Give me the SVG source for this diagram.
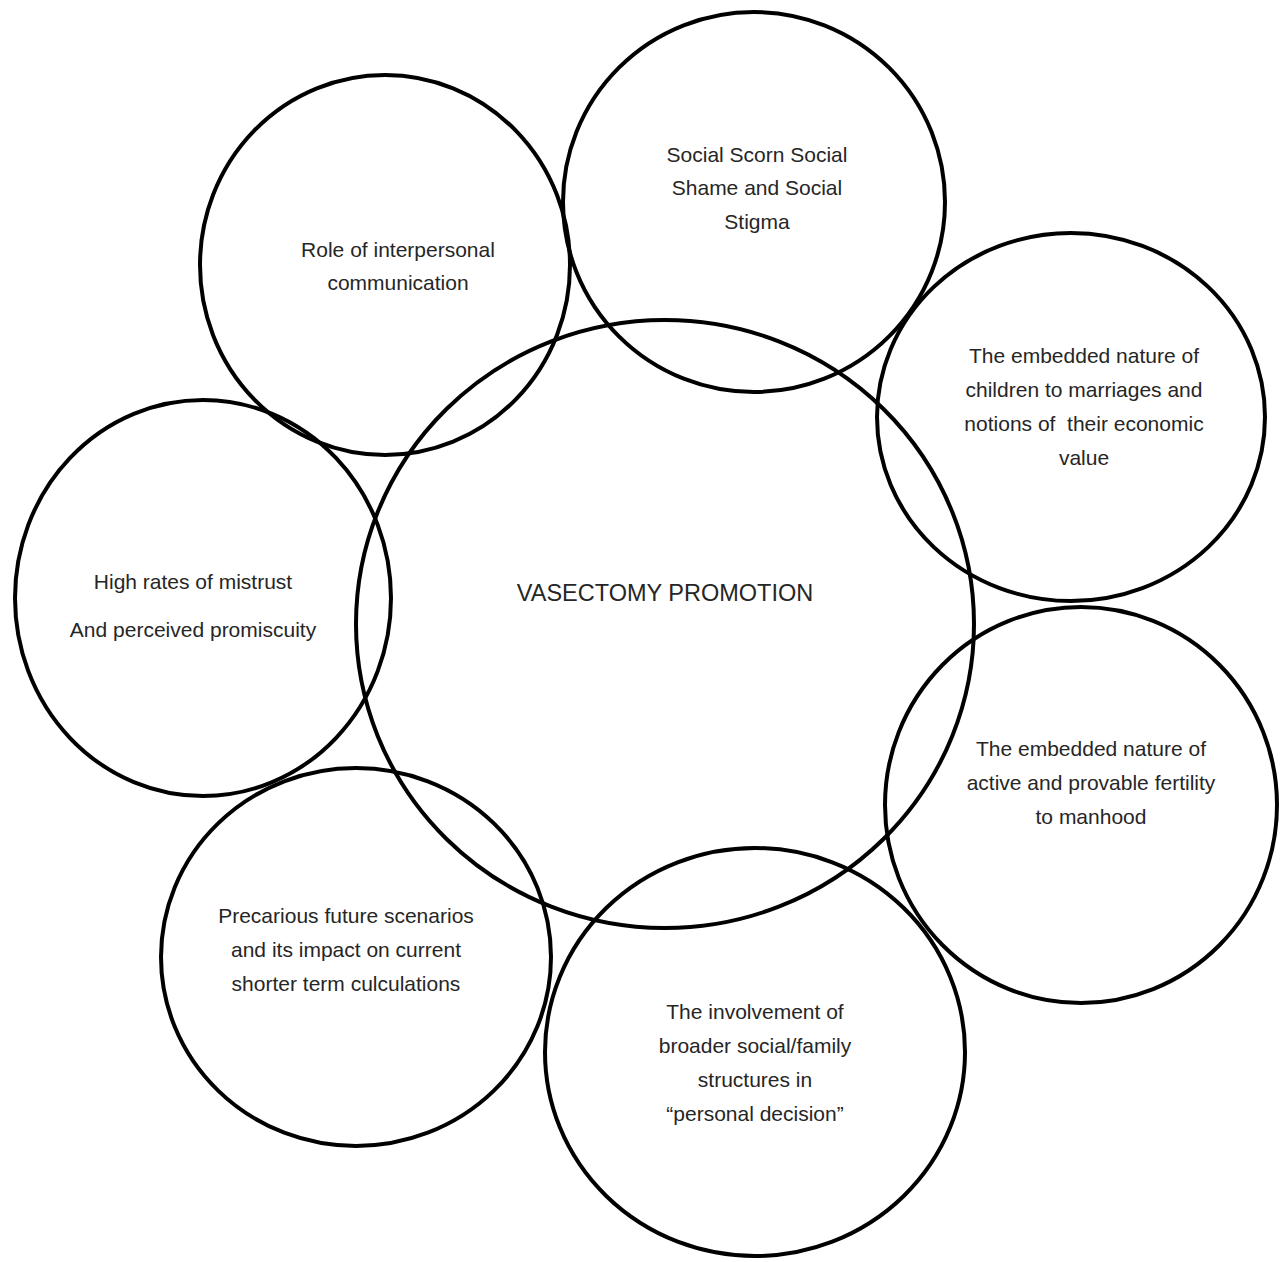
<svg xmlns="http://www.w3.org/2000/svg" width="1286" height="1262" viewBox="0 0 1286 1262">
<style>
.c{fill:none;stroke:#000;stroke-width:4}
.t{font-family:"Liberation Sans",Arial,sans-serif;font-size:21px;fill:#262626;text-anchor:middle}
.m{font-size:23.5px}
</style>
<rect width="1286" height="1262" fill="#fff"/>
<g id="connectors"/>
<g id="center">
<ellipse class="c" cx="665" cy="624" rx="309" ry="304"/>
<text class="t m" x="665" y="601">VASECTOMY PROMOTION</text>
</g>
<g id="role">
<ellipse class="c" cx="385" cy="265" rx="185" ry="190"/>
<text class="t" x="398" y="257">Role of interpersonal</text>
<text class="t" x="398" y="290">communication</text>
</g>
<g id="social">
<ellipse class="c" cx="754" cy="202" rx="191" ry="190"/>
<text class="t" x="757" y="162">Social Scorn Social</text>
<text class="t" x="757" y="195">Shame and Social</text>
<text class="t" x="757" y="229">Stigma</text>
</g>
<g id="children">
<ellipse class="c" cx="1071" cy="417" rx="194" ry="184"/>
<text class="t" x="1084" y="363">The embedded nature of</text>
<text class="t" x="1084" y="397">children to marriages and</text>
<text class="t" x="1084" y="431" xml:space="preserve">notions of  their economic</text>
<text class="t" x="1084" y="465">value</text>
</g>
<g id="fertility">
<ellipse class="c" cx="1081" cy="805" rx="196" ry="198"/>
<text class="t" x="1091" y="756">The embedded nature of</text>
<text class="t" x="1091" y="790">active and provable fertility</text>
<text class="t" x="1091" y="824">to manhood</text>
</g>
<g id="involvement">
<ellipse class="c" cx="755" cy="1052" rx="210" ry="204"/>
<text class="t" x="755" y="1019">The involvement of</text>
<text class="t" x="755" y="1053">broader social/family</text>
<text class="t" x="755" y="1087">structures in</text>
<text class="t" x="755" y="1121">“personal decision”</text>
</g>
<g id="precarious">
<ellipse class="c" cx="356" cy="957" rx="195" ry="189"/>
<text class="t" x="346" y="923">Precarious future scenarios</text>
<text class="t" x="346" y="957">and its impact on current</text>
<text class="t" x="346" y="991">shorter term culculations</text>
</g>
<g id="mistrust">
<ellipse class="c" cx="203" cy="598" rx="188" ry="198"/>
<text class="t" x="193" y="589">High rates of mistrust</text>
<text class="t" x="193" y="637">And perceived promiscuity</text>
</g>
</svg>
